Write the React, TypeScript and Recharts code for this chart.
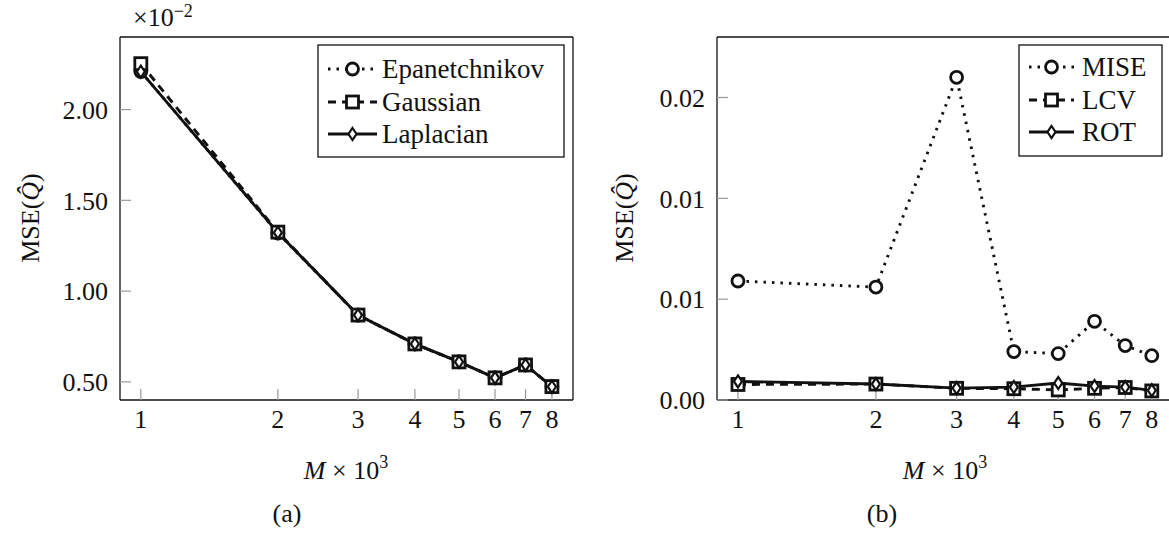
import React from "react";
import { LineChart, Line, XAxis, YAxis } from "recharts";

const M_TICKS = [1, 2, 3, 4, 5, 6, 7, 8];

// (a) MSE per kernel, scaled by 1e-2
const EPANETCHNIKOV = [2.21, 1.32, 0.868, 0.709, 0.61, 0.522, 0.593, 0.473];
const GAUSSIAN = [2.253, 1.325, 0.868, 0.709, 0.61, 0.522, 0.593, 0.474];
const LAPLACIAN = [2.209, 1.322, 0.868, 0.709, 0.61, 0.522, 0.593, 0.473];
const KERNEL_TICKS = [0.5, 1.0, 1.5, 2.0];

// (b) MSE per bandwidth selector
const MISE = [0.0059, 0.0056, 0.016, 0.0024, 0.0023, 0.0039, 0.0027, 0.0022];
const LCV = [0.00077, 0.00079, 0.00058, 0.00056, 0.0005, 0.00058, 0.00062, 0.00045];
const ROT = [0.00092, 0.00079, 0.00059, 0.00064, 0.00084, 0.00069, 0.00064, 0.00048];
const SELECTOR_TICKS = [0, 0.005, 0.01, 0.015];

const FONT = '"Liberation Serif", "DejaVu Serif", serif';
const INK = "#111";
const TICK_GREY = "#9a9a9a";
const DOTTED = "2.5 6";
const DASHED = "8 6";

type Marker = "circle" | "square" | "diamond";

interface Series {
  key: string;
  name: string;
  dash?: string;
  marker: Marker;
}

const kernelSeries: Series[] = [
  { key: "epa", name: "Epanetchnikov", dash: DOTTED, marker: "circle" },
  { key: "gauss", name: "Gaussian", dash: DASHED, marker: "square" },
  { key: "lap", name: "Laplacian", marker: "diamond" },
];

const selectorSeries: Series[] = [
  { key: "mise", name: "MISE", dash: DOTTED, marker: "circle" },
  { key: "lcv", name: "LCV", dash: DASHED, marker: "square" },
  { key: "rot", name: "ROT", marker: "diamond" },
];

const kernelData = M_TICKS.map((m, i) => ({
  m,
  epa: EPANETCHNIKOV[i],
  gauss: GAUSSIAN[i],
  lap: LAPLACIAN[i],
}));

const selectorData = M_TICKS.map((m, i) => ({
  m,
  mise: MISE[i],
  lcv: LCV[i],
  rot: ROT[i],
}));

function MarkerShape({ shape, cx, cy }: { shape: Marker; cx: number; cy: number }) {
  if (shape === "circle") {
    return <circle cx={cx} cy={cy} r={6} fill="#fff" stroke={INK} strokeWidth={2.8} />;
  }
  if (shape === "square") {
    return <rect x={cx - 6} y={cy - 6} width={12} height={12} fill="#fff" stroke={INK} strokeWidth={2.8} />;
  }
  return (
    <polygon
      points={`${cx},${cy - 6} ${cx + 4},${cy} ${cx},${cy + 6} ${cx - 4},${cy}`}
      fill="#fff"
      stroke={INK}
      strokeWidth={2.2}
    />
  );
}

const renderMarker = (shape: Marker) => (p: any) => {
  if (p.cx == null || p.cy == null) return <g key={`${shape}-${p.index}`} />;
  return <MarkerShape key={`${shape}-${p.index}`} shape={shape} cx={p.cx} cy={p.cy} />;
};

const fmt2 = (v: number) => (Math.round(v * 100) / 100).toFixed(2);

interface PanelProps {
  left: number;
  width: number;
  plotLeft: number;
  plotRight: number;
  domain: [number, number];
  ticks: number[];
  data: any[];
  series: Series[];
}

// Axes get a 1px band (a zero-sized axis is not drawn); margins absorb it.
function Panel({ left, width, plotLeft, plotRight, domain, ticks, data, series }: PanelProps) {
  const axisLine = { stroke: INK, strokeWidth: 1.3 };
  const tickLine = { stroke: TICK_GREY, strokeWidth: 1.2 };
  return (
    <div style={{ position: "absolute", left, top: 0 }}>
      <LineChart
        width={width}
        height={533}
        data={data}
        margin={{ top: 36, bottom: 132, left: plotLeft - 1, right: plotRight - 1 }}
      >
        <XAxis
          xAxisId="b"
          dataKey="m"
          type="number"
          scale="log"
          domain={[0.9, 8.9]}
          allowDataOverflow
          ticks={M_TICKS}
          interval={0}
          height={1}
          tickSize={-11}
          tickMargin={21}
          axisLine={axisLine}
          tickLine={tickLine}
          tick={{ fill: INK, fontSize: 26, fontFamily: FONT }}
        />
        <XAxis
          xAxisId="t"
          orientation="top"
          dataKey="m"
          type="number"
          scale="log"
          domain={[0.9, 8.9]}
          allowDataOverflow
          ticks={M_TICKS}
          interval={0}
          height={1}
          tickSize={-11}
          axisLine={axisLine}
          tickLine={tickLine}
          tick={false}
        />
        <YAxis
          yAxisId="l"
          type="number"
          domain={domain}
          allowDataOverflow
          ticks={ticks}
          interval={0}
          width={1}
          tickSize={-11}
          tickMargin={23}
          tickFormatter={fmt2}
          axisLine={axisLine}
          tickLine={tickLine}
          tick={{ fill: INK, fontSize: 26, fontFamily: FONT }}
        />
        <YAxis
          yAxisId="r"
          orientation="right"
          type="number"
          domain={domain}
          allowDataOverflow
          ticks={ticks}
          interval={0}
          width={1}
          tickSize={-11}
          axisLine={axisLine}
          tickLine={tickLine}
          tick={false}
        />
        {series.map((s) => (
          <Line
            key={s.key}
            xAxisId="b"
            yAxisId="l"
            dataKey={s.key}
            type="linear"
            stroke={INK}
            strokeWidth={2.9}
            strokeDasharray={s.dash}
            dot={renderMarker(s.marker)}
            activeDot={false}
            isAnimationActive={false}
          />
        ))}
      </LineChart>
    </div>
  );
}

interface LegendProps {
  x: number;
  y: number;
  w: number;
  h: number;
  sampleX: number;
  sampleW: number;
  textX: number;
  rows: number[];
  series: Series[];
}

function LegendBox({ x, y, w, h, sampleX, sampleW, textX, rows, series }: LegendProps) {
  return (
    <g>
      <rect x={x} y={y} width={w} height={h} fill="#fff" stroke={INK} strokeWidth={1.3} />
      {series.map((s, i) => {
        const cy = rows[i];
        const mid = sampleX + sampleW / 2;
        return (
          <g key={s.key}>
            <line
              x1={sampleX}
              x2={sampleX + sampleW}
              y1={cy}
              y2={cy}
              stroke={INK}
              strokeWidth={2.9}
              strokeDasharray={s.dash}
            />
            <MarkerShape shape={s.marker} cx={mid} cy={cy} />
            <text x={textX} y={cy + 9} fontSize={27} fontFamily={FONT} fill={INK}>
              {s.name}
            </text>
          </g>
        );
      })}
    </g>
  );
}

function YLabel({ x, y }: { x: number; y: number }) {
  return (
    <text
      transform={`translate(${x},${y}) rotate(-90)`}
      y={9}
      textAnchor="middle"
      fontSize={26}
      fontFamily={FONT}
      fill={INK}
    >
      MSE(<tspan fontStyle="italic">Q̂</tspan>)
    </text>
  );
}

function XLabel({ x }: { x: number }) {
  return (
    <text x={x} y={479} textAnchor="middle" fontSize={26} fontFamily={FONT} fill={INK}>
      <tspan fontStyle="italic">M</tspan> × 10
      <tspan dy={-11} fontSize={18}>3</tspan>
    </text>
  );
}

export default function App() {
  return (
    <div
      style={{
        position: "absolute",
        left: 0,
        top: 0,
        width: 1169,
        height: 533,
        overflow: "hidden",
        background: "#fff",
      }}
    >
      <Panel
        left={0}
        width={600}
        plotLeft={120}
        plotRight={27}
        domain={[0.4, 2.4]}
        ticks={KERNEL_TICKS}
        data={kernelData}
        series={kernelSeries}
      />
      <Panel
        left={600}
        width={574}
        plotLeft={117}
        plotRight={1}
        domain={[0, 0.018]}
        ticks={SELECTOR_TICKS}
        data={selectorData}
        series={selectorSeries}
      />
      <svg
        width={1169}
        height={533}
        style={{ position: "absolute", left: 0, top: 0, pointerEvents: "none" }}
      >
        <text x={133} y={26} fontSize={26} fontFamily={FONT} fill={INK}>
          ×10
          <tspan dy={-9} fontSize={18}>−2</tspan>
        </text>
        <YLabel x={30} y={218} />
        <YLabel x={624} y={218} />
        <XLabel x={346} />
        <XLabel x={945} />
        <text x={287} y={522} textAnchor="middle" fontSize={26} fontFamily={FONT} fill={INK}>
          (a)
        </text>
        <text x={882} y={522} textAnchor="middle" fontSize={26} fontFamily={FONT} fill={INK}>
          (b)
        </text>
        <LegendBox
          x={318}
          y={45}
          w={246}
          h={112}
          sampleX={328}
          sampleW={49}
          textX={382}
          rows={[69, 102, 134]}
          series={kernelSeries}
        />
        <LegendBox
          x={1019}
          y={45}
          w={143}
          h={111}
          sampleX={1029}
          sampleW={45}
          textX={1082}
          rows={[67, 100, 132]}
          series={selectorSeries}
        />
      </svg>
    </div>
  );
}
